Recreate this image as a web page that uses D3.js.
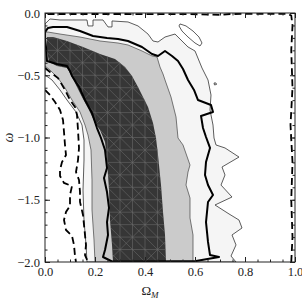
<!DOCTYPE html>
<html>
<head>
<meta charset="utf-8">
<script src="https://cdn.jsdelivr.net/npm/d3@7"></script>
<style>
  body { margin: 0; background: #fff; }
  svg text { font-family: "Liberation Serif", "Times New Roman", serif; }
</style>
</head>
<body>
<div class="contourChart"></div>
<script>
// tick values
var xTicks = [0, 0.2, 0.4, 0.6, 0.8, 1.0];
var yTicks = [0, -0.5, -1.0, -1.5, -2.0];

// filled regions [Omega_M, w]
var darkRegion = [[0.008,-0.193],[0.032,-0.193],[0.088,-0.225],[0.152,-0.273],[0.22,-0.329],[0.28,-0.369],[0.32,-0.434],[0.348,-0.506],[0.372,-0.594],[0.412,-0.755],[0.432,-0.884],[0.444,-1.004],[0.452,-1.141],[0.464,-1.382],[0.472,-1.598],[0.48,-1.783],[0.484,-2.0],[0.272,-2.0],[0.268,-1.863],[0.26,-1.663],[0.256,-1.422],[0.248,-1.181],[0.24,-1.036],[0.22,-0.94],[0.2,-0.884],[0.176,-0.779],[0.148,-0.675],[0.12,-0.562],[0.1,-0.482],[0.088,-0.442],[0.048,-0.426],[0.016,-0.394],[0.008,-0.297]];

var lightRegion = [[0,-0.153],[0.012,-0.153],[0.06,-0.169],[0.14,-0.193],[0.22,-0.225],[0.292,-0.241],[0.332,-0.257],[0.388,-0.305],[0.428,-0.345],[0.448,-0.353],[0.46,-0.434],[0.472,-0.49],[0.48,-0.538],[0.504,-0.675],[0.524,-0.835],[0.532,-1.004],[0.552,-1.06],[0.58,-1.221],[0.572,-1.277],[0.564,-1.382],[0.58,-1.486],[0.58,-1.647],[0.592,-1.783],[0.592,-2.0],[0.2,-2.0],[0.196,-1.823],[0.188,-1.582],[0.188,-1.341],[0.184,-1.1],[0.172,-0.98],[0.16,-0.9],[0.14,-0.795],[0.108,-0.699],[0.08,-0.602],[0.052,-0.522],[0.02,-0.458],[0,-0.426]];

var outerRegion = [[0,-0.088],[0.02,-0.048],[0.06,-0.056],[0.168,-0.056],[0.172,-0.104],[0.192,-0.104],[0.192,-0.056],[0.232,-0.056],[0.252,-0.112],[0.268,-0.112],[0.268,-0.064],[0.332,-0.072],[0.372,-0.104],[0.412,-0.169],[0.432,-0.225],[0.452,-0.233],[0.48,-0.193],[0.52,-0.169],[0.548,-0.225],[0.572,-0.273],[0.6,-0.305],[0.628,-0.442],[0.652,-0.538],[0.664,-0.659],[0.66,-0.779],[0.672,-0.9],[0.676,-1.004],[0.684,-1.06],[0.72,-1.084],[0.776,-1.157],[0.708,-1.237],[0.72,-1.301],[0.704,-1.382],[0.748,-1.478],[0.68,-1.542],[0.736,-1.614],[0.776,-1.663],[0.788,-1.727],[0.748,-1.783],[0.764,-1.863],[0.744,-1.952],[0.764,-2.0],[0.168,-2.0],[0.164,-1.863],[0.156,-1.663],[0.152,-1.422],[0.156,-1.181],[0.156,-1.02],[0.148,-0.9],[0.124,-0.795],[0.088,-0.699],[0.06,-0.618],[0.028,-0.538],[0,-0.498]];

var island = [[0.54,-0.088],[0.564,-0.104],[0.592,-0.145],[0.616,-0.193],[0.628,-0.241],[0.62,-0.265],[0.6,-0.241],[0.572,-0.193],[0.548,-0.145],[0.536,-0.104]];
var speck = [[0.676,-0.562],[0.684,-0.562],[0.686,-0.574],[0.678,-0.578]];

// line contours
var thickContour = [[0,-0.201],[0,-0.153],[0.012,-0.12],[0.032,-0.112],[0.088,-0.112],[0.14,-0.145],[0.192,-0.185],[0.248,-0.201],[0.292,-0.209],[0.332,-0.225],[0.388,-0.273],[0.428,-0.329],[0.452,-0.345],[0.48,-0.305],[0.508,-0.345],[0.532,-0.386],[0.552,-0.45],[0.572,-0.538],[0.596,-0.618],[0.612,-0.699],[0.664,-0.739],[0.672,-0.795],[0.624,-0.827],[0.632,-0.924],[0.644,-0.996],[0.66,-1.084],[0.644,-1.197],[0.64,-1.301],[0.652,-1.382],[0.672,-1.462],[0.652,-1.518],[0.644,-1.679],[0.652,-1.839],[0.66,-1.944],[0.696,-1.96],[0.604,-1.992],[0.42,-1.996],[0.268,-1.996],[0.232,-1.96],[0.24,-1.904],[0.252,-1.783],[0.248,-1.679],[0.256,-1.566],[0.248,-1.438],[0.236,-1.325],[0.248,-1.245],[0.24,-1.1],[0.224,-1.004],[0.208,-0.924],[0.188,-0.803],[0.16,-0.699],[0.136,-0.594],[0.108,-0.506],[0.1,-0.466],[0.088,-0.426],[0.048,-0.41],[0.008,-0.386],[0.004,-0.273]];

var dashedInner = [[0,-0.442],[0.02,-0.474],[0.052,-0.522],[0.08,-0.618],[0.1,-0.699],[0.12,-0.755],[0.128,-0.819],[0.132,-0.94],[0.136,-1.084],[0.132,-1.181],[0.124,-1.277],[0.136,-1.341],[0.14,-1.438],[0.14,-1.518],[0.152,-1.622],[0.16,-1.783],[0.164,-1.863],[0.16,-1.944],[0.172,-2.0]];
var dashedLeft = [[0,-0.618],[0.02,-0.659],[0.04,-0.715],[0.06,-0.779],[0.072,-0.859],[0.076,-0.956],[0.08,-1.06],[0.084,-1.141],[0.068,-1.197],[0.06,-1.261],[0.06,-1.309],[0.076,-1.365],[0.108,-1.39],[0.1,-1.462],[0.1,-1.55],[0.084,-1.598],[0.076,-1.663],[0.084,-1.743],[0.108,-1.791],[0.116,-1.863],[0.12,-1.952],[0.124,-2.0]];
var dashedBorder = [[0.01,-0.008],[0.3,-0.008],[0.62,-0.01],[0.704,-0.016],[0.74,-0.008],[0.97,-0.006],[0.985,-0.02],[0.99,-0.1],[0.985,-0.3],[0.99,-0.6],[0.982,-0.9],[0.99,-1.2],[0.985,-1.5],[0.99,-1.8],[0.985,-2.0]];

var width = 302, height = 298;

var svg = d3.select(".contourChart").append("svg")
    .attr("width", width)
    .attr("height", height);

var x = d3.scaleLinear().domain([0, 1]).range([45, 295]);
var y = d3.scaleLinear().domain([-2, 0]).range([262, 13]);

var closedPath = d3.line().x(function(d) { return x(d[0]); }).y(function(d) { return y(d[1]); }).curve(d3.curveLinearClosed);
var openPath = d3.line().x(function(d) { return x(d[0]); }).y(function(d) { return y(d[1]); });

var defs = svg.append("defs");
defs.append("clipPath").attr("id", "plotClip")
  .append("rect").attr("x", x(0)).attr("y", y(0)).attr("width", x(1) - x(0)).attr("height", y(-2) - y(0));
defs.append("clipPath").attr("id", "darkClip")
  .append("path").attr("d", closedPath(darkRegion));

var plot = svg.append("g").attr("clip-path", "url(#plotClip)");

plot.append("path").attr("d", closedPath(outerRegion)).attr("fill", "#f5f5f5").attr("stroke", "#333").attr("stroke-width", 0.8);
plot.append("path").attr("d", closedPath(lightRegion)).attr("fill", "#cbcbcb").attr("stroke", "#444").attr("stroke-width", 0.7);
plot.append("path").attr("d", closedPath(darkRegion)).attr("fill", "#363636");

// triangulation mesh inside the dark region
var mesh = plot.append("g").attr("clip-path", "url(#darkClip)")
    .attr("stroke", "#6e6e6e").attr("stroke-width", 0.55).attr("fill", "none");
var cols = d3.range(0, 1.0001, 0.05), rows = d3.range(0, -2.0001, -0.1);
cols.forEach(function(c) {
  mesh.append("line").attr("x1", x(c)).attr("x2", x(c)).attr("y1", y(0)).attr("y2", y(-2));
});
rows.forEach(function(r) {
  mesh.append("line").attr("y1", y(r)).attr("y2", y(r)).attr("x1", x(0)).attr("x2", x(1));
});
cols.forEach(function(c, i) {
  rows.forEach(function(r, j) {
    mesh.append("line").attr("x1", x(c)).attr("y1", y(r)).attr("x2", x(c + 0.05)).attr("y2", y(r - 0.1));
    if ((i + j) % 3 === 0) {
      mesh.append("line").attr("x1", x(c + 0.05)).attr("y1", y(r)).attr("x2", x(c)).attr("y2", y(r - 0.1));
    }
  });
});

plot.append("path").attr("d", closedPath(island)).attr("fill", "none").attr("stroke", "#333").attr("stroke-width", 0.8);
plot.append("path").attr("d", closedPath(speck)).attr("fill", "none").attr("stroke", "#333").attr("stroke-width", 0.8);

plot.append("path").attr("d", closedPath(thickContour)).attr("fill", "none")
  .attr("stroke", "#000").attr("stroke-width", 2).attr("stroke-linejoin", "round");

[dashedInner, dashedLeft, dashedBorder].forEach(function(line) {
  plot.append("path").attr("d", openPath(line)).attr("fill", "none")
    .attr("stroke", "#000").attr("stroke-width", 1.8).attr("stroke-dasharray", "7,4");
});

// axes, ticks pointing inward on all four sides
var fmt = d3.format(".1f");
var xMinor = d3.range(0, 1.0001, 0.05), yMinor = d3.range(-2, 0.0001, 0.1);

function styleAxis(g) {
  g.select(".domain").remove();
  g.selectAll("line").attr("stroke", "#222");
  g.attr("font-family", null).attr("font-size", null);
  g.selectAll("text").attr("fill", "#222").style("font-size", "12.5px");
}

svg.append("g").attr("transform", "translate(0," + y(-2) + ")")
  .call(d3.axisBottom(x).tickValues(xMinor).tickSize(-2.5).tickFormat("")).call(styleAxis);
svg.append("g").attr("transform", "translate(0," + y(-2) + ")")
  .call(d3.axisBottom(x).tickValues(xTicks).tickSize(-5).tickPadding(5).tickFormat(fmt)).call(styleAxis);
svg.append("g").attr("transform", "translate(0," + y(0) + ")")
  .call(d3.axisTop(x).tickValues(xMinor).tickSize(-2.5).tickFormat("")).call(styleAxis);
svg.append("g").attr("transform", "translate(0," + y(0) + ")")
  .call(d3.axisTop(x).tickValues(xTicks).tickSize(-5).tickFormat("")).call(styleAxis);

svg.append("g").attr("transform", "translate(" + x(0) + ",0)")
  .call(d3.axisLeft(y).tickValues(yMinor).tickSize(-2.5).tickFormat("")).call(styleAxis);
svg.append("g").attr("transform", "translate(" + x(0) + ",0)")
  .call(d3.axisLeft(y).tickValues(yTicks).tickSize(-5).tickPadding(5).tickFormat(fmt)).call(styleAxis);
svg.append("g").attr("transform", "translate(" + x(1) + ",0)")
  .call(d3.axisRight(y).tickValues(yMinor).tickSize(-2.5).tickFormat("")).call(styleAxis);
svg.append("g").attr("transform", "translate(" + x(1) + ",0)")
  .call(d3.axisRight(y).tickValues(yTicks).tickSize(-5).tickFormat("")).call(styleAxis);

svg.append("rect")
  .attr("x", x(0)).attr("y", y(0))
  .attr("width", x(1) - x(0)).attr("height", y(-2) - y(0))
  .attr("fill", "none").attr("stroke", "#222").attr("stroke-width", 1);

// axis titles
var xTitle = svg.append("text")
  .attr("x", 150).attr("y", 295)
  .attr("text-anchor", "middle")
  .style("font-size", "13px").attr("fill", "#222");
xTitle.append("tspan").text("\u03A9");
xTitle.append("tspan").text("M").style("font-style", "italic").style("font-size", "9px").attr("dy", 2.5);

svg.append("text")
  .attr("transform", "translate(13," + y(-1) + ") rotate(-90)")
  .attr("text-anchor", "middle")
  .style("font-size", "14px").style("font-style", "italic").attr("fill", "#222")
  .text("\u03C9");
</script>
</body>
</html>
